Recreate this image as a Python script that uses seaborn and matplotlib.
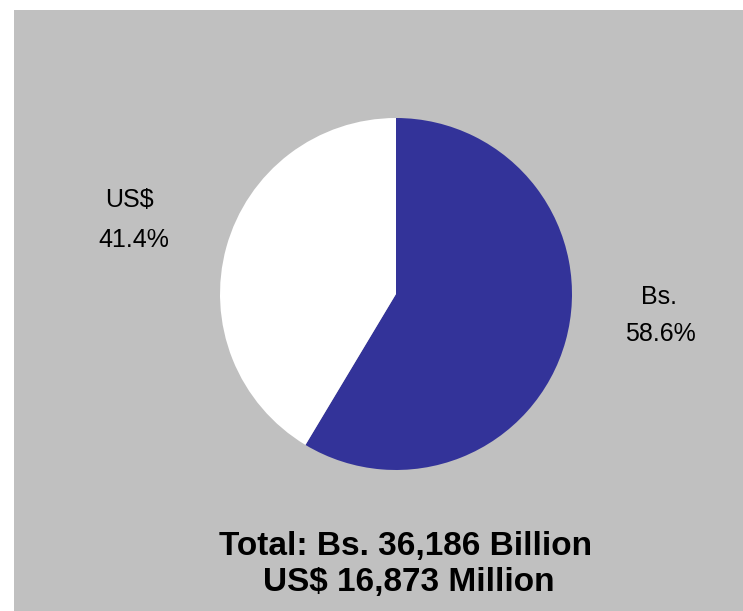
import matplotlib
matplotlib.use("Agg")
import matplotlib.pyplot as plt
from matplotlib.patches import Rectangle
import seaborn as sns

# Currency composition
categories = ["Bs.", "US$"]
shares = [58.6, 41.4]
total_lines = ["Total: Bs. 36,186 Billion", "US$ 16,873 Million"]

sns.set_theme(style="white")
plt.rcParams["font.family"] = ["Liberation Sans", "DejaVu Sans"]

colors = ["#333399", "#FFFFFF"]
bg = "#C0C0C0"

W, H = 743, 611
fig = plt.figure(figsize=(W / 100, H / 100), dpi=100)
fig.patch.set_facecolor("white")

# grey chart area
fig.add_artist(Rectangle((14 / W, 0), 1 - 14 / W, 1 - 10 / H,
                         transform=fig.transFigure, facecolor=bg,
                         edgecolor="none", zorder=0))

cx, cy, r = 396, 294, 176
ax = fig.add_axes([(cx - r) / W, (H - cy - r) / H, 2 * r / W, 2 * r / H])
ax.set_facecolor("none")
ax.pie(shares, colors=colors, startangle=90, counterclock=False,
       radius=1.0, wedgeprops=dict(linewidth=0))
ax.set_xlim(-1, 1)
ax.set_ylim(-1, 1)
ax.set_aspect("equal")
ax.axis("off")

def fx(x):
    return x / W

def fy(y):
    return 1 - y / H

label_pos = {"Bs.": ((659, 297), (660, 334)), "US$": ((129, 200), (134, 240))}
for name, val in zip(categories, shares):
    (x1, y1), (x2, y2) = label_pos[name]
    fig.text(fx(x1), fy(y1), name, ha="center", va="center",
             fontsize=18, color="black")
    fig.text(fx(x2), fy(y2), f"{val:.1f}%", ha="center", va="center",
             fontsize=18, color="black")

fig.text(fx(406), fy(546), total_lines[0], ha="center", va="center",
         fontsize=24, fontweight="bold", color="black")
fig.text(fx(409), fy(582), total_lines[1], ha="center", va="center",
         fontsize=24, fontweight="bold", color="black")

fig.savefig("out.png", dpi=100)
